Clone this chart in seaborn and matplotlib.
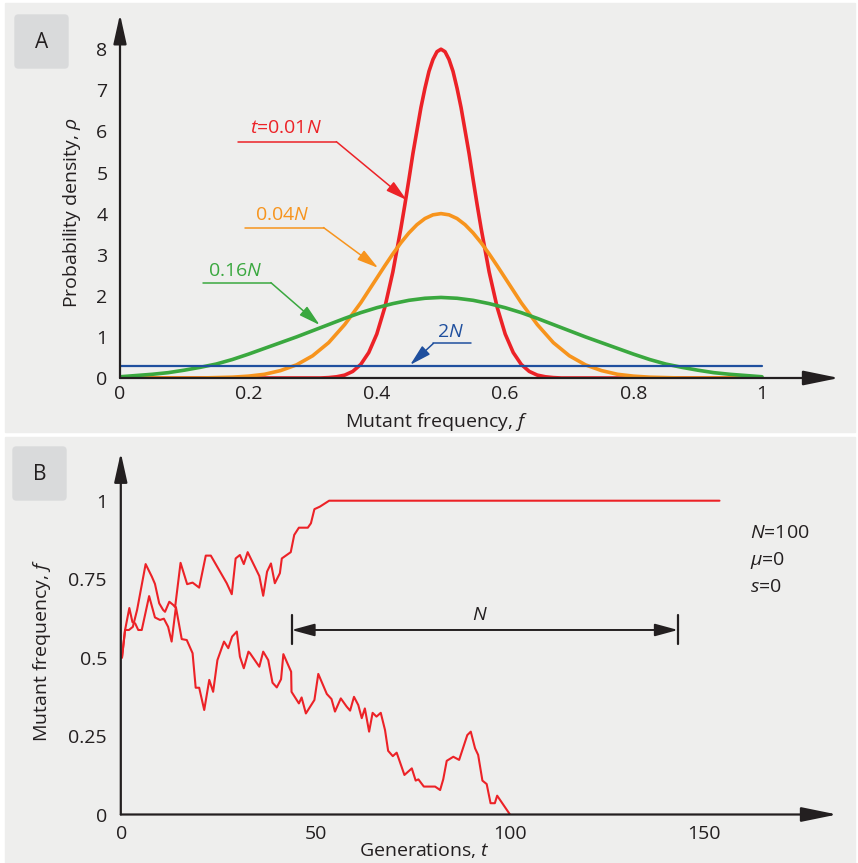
import numpy as np
import matplotlib
matplotlib.use("Agg")
import matplotlib.pyplot as plt
from matplotlib.patches import Rectangle, FancyBboxPatch
import seaborn as sns

# ---------------- data ----------------
# Panel A: probability density of mutant frequency at several times
f_red = [0.0, 0.3, 0.3125, 0.325, 0.3375, 0.35, 0.3625, 0.375, 0.3875, 0.4,
         0.4125, 0.425, 0.4375, 0.44375, 0.45, 0.45625, 0.4625, 0.46875, 0.475,
         0.48125, 0.4875, 0.49375, 0.5, 0.50625, 0.5125, 0.51875, 0.525,
         0.53125, 0.5375, 0.54375, 0.55, 0.55625, 0.5625, 0.575, 0.5875, 0.6,
         0.6125, 0.625, 0.6375, 0.65, 0.6625, 0.675, 0.6875, 0.7, 1.0]
rho_red = [0, 0, 0, 0.01, 0.03, 0.07, 0.16, 0.33, 0.62, 1.07,
           1.72, 2.58, 3.64, 4.22, 4.83, 5.46, 6.02, 6.58, 7.05,
           7.46, 7.75, 7.94, 8.0, 7.94, 7.75, 7.46, 7.05,
           6.58, 6.02, 5.46, 4.83, 4.22, 3.64, 2.58, 1.72, 1.07,
           0.62, 0.33, 0.16, 0.07, 0.03, 0.01, 0, 0, 0]

f_orange = [0.0, 0.125, 0.15, 0.175, 0.2, 0.225, 0.25, 0.275, 0.3, 0.325,
            0.35, 0.375, 0.4, 0.4125, 0.425, 0.4375, 0.45, 0.4625, 0.475,
            0.4875, 0.5, 0.5125, 0.525, 0.5375, 0.55, 0.5625, 0.575, 0.5875,
            0.6, 0.625, 0.65, 0.675, 0.7, 0.725, 0.75, 0.775, 0.8, 0.825,
            0.85, 0.875, 1.0]
rho_orange = [0, 0, 0.01, 0.02, 0.045, 0.09, 0.18, 0.32, 0.54, 0.86,
              1.30, 1.83, 2.43, 2.73, 3.02, 3.29, 3.53, 3.73, 3.88,
              3.97, 4.0, 3.97, 3.88, 3.73, 3.53, 3.29, 3.02, 2.73,
              2.43, 1.83, 1.30, 0.86, 0.54, 0.32, 0.18, 0.09, 0.045, 0.02,
              0.01, 0, 0]

f_green = np.linspace(0, 1, 41)
rho_green = [0.03, 0.06, 0.09, 0.13, 0.19, 0.26, 0.34, 0.45, 0.58, 0.72, 0.86,
             1.00, 1.15, 1.30, 1.45, 1.59, 1.71, 1.81, 1.89, 1.94, 1.96,
             1.94, 1.89, 1.81, 1.71, 1.59, 1.45, 1.30, 1.15, 1.00, 0.86,
             0.72, 0.58, 0.45, 0.34, 0.26, 0.19, 0.13, 0.09, 0.06, 0.03]

f_blue = [0.0, 1.0]
rho_blue = [0.28, 0.28]

curve_labels = [r"$t$=0.01$N$", r"0.04$N$", r"0.16$N$", r"2$N$"]
xticks_a = [0, 0.1, 0.2, 0.3, 0.4, 0.5, 0.6, 0.7, 0.8, 0.9, 1.0]
xticklabels_a = ["0", "", "0.2", "", "0.4", "", "0.6", "", "0.8", "", "1"]
yticks_a = [0, 1, 2, 3, 4, 5, 6, 7, 8]

# Panel B: two drift trajectories (N=100)
t_fix = [0, 0.8, 1.8, 2.8, 3.9, 6.1, 7.7, 8.5, 9.6, 10.6, 11.1, 12.2, 13.2,
         13.7, 15.1, 16.8, 18.2, 19.9, 21.6, 22.9, 27.0, 28.3, 29.3, 30.4,
         31.4, 32.4, 35.4, 36.4, 37.4, 38.4, 39.4, 40.7, 41.2, 43.5, 44.4,
         45.6, 47.9, 48.7, 49.6, 51.0, 53.4, 154]
f_fix = [0.5, 0.588, 0.588, 0.598, 0.652, 0.798, 0.758, 0.735, 0.673, 0.652,
         0.646, 0.678, 0.668, 0.661, 0.802, 0.734, 0.739, 0.723, 0.825, 0.825,
         0.737, 0.702, 0.816, 0.827, 0.798, 0.836, 0.760, 0.697, 0.774, 0.800,
         0.737, 0.769, 0.816, 0.836, 0.891, 0.914, 0.914, 0.928, 0.973, 0.981,
         1.0, 1.0]

t_loss = [0, 0.8, 1.9, 2.7, 3.4, 4.2, 5.1, 7.0, 8.5, 9.8, 10.8, 11.9, 12.8,
          13.9, 15.4, 16.7, 18.2, 19.0, 19.9, 21.2, 22.5, 23.5, 24.6, 26.3,
          27.4, 28.4, 29.6, 30.4, 31.4, 32.6, 33.0, 35.4, 36.4, 37.7, 38.8,
          39.9, 41.0, 41.6, 43.6, 43.7, 45.6, 46.3, 47.4, 49.6, 50.6, 52.8,
          54.0, 54.9, 56.4, 57.9, 58.8, 59.8, 60.9, 61.8, 62.6, 63.7, 64.6,
          65.6, 66.7, 67.8, 68.6, 69.8, 70.8, 72.8, 74.7, 75.7, 76.4, 77.8,
          80.7, 82.0, 82.8, 83.7, 85.4, 86.9, 89.0, 89.9, 91.0, 91.8, 92.9,
          94.0, 95.0, 96.1, 96.7, 100.0]
f_loss = [0.5, 0.588, 0.658, 0.613, 0.609, 0.588, 0.588, 0.696, 0.628, 0.620,
          0.624, 0.598, 0.551, 0.661, 0.559, 0.556, 0.514, 0.404, 0.404, 0.333,
          0.429, 0.391, 0.492, 0.551, 0.530, 0.567, 0.583, 0.503, 0.466, 0.519,
          0.514, 0.471, 0.519, 0.492, 0.420, 0.405, 0.431, 0.511, 0.455, 0.391,
          0.354, 0.373, 0.322, 0.365, 0.448, 0.384, 0.368, 0.328, 0.370, 0.344,
          0.331, 0.375, 0.349, 0.307, 0.338, 0.264, 0.324, 0.312, 0.324, 0.269,
          0.203, 0.186, 0.197, 0.126, 0.147, 0.108, 0.112, 0.089, 0.089, 0.078,
          0.112, 0.171, 0.184, 0.174, 0.253, 0.264, 0.211, 0.190, 0.108, 0.097,
          0.036, 0.036, 0.060, 0.0]

xticks_b = [0, 50, 100, 150]
yticks_b = [0, 0.25, 0.5, 0.75, 1]
yticklabels_b = ["0", "0.25", "0.5", "0.75", "1"]
params_b = [r"$N$=100", r"$\mu$=0", r"$s$=0"]

# ---------------- style ----------------
sns.set_theme(style="white")
plt.rcParams["font.family"] = ["Open Sans", "DejaVu Sans"]
plt.rcParams["mathtext.fontset"] = "custom"
plt.rcParams["mathtext.rm"] = "Open Sans"
plt.rcParams["mathtext.it"] = "Open Sans:italic"
plt.rcParams["mathtext.sf"] = "Open Sans"

INK = "#231f20"
RED = "#ec2227"
ORANGE = "#f7941d"
GREEN = "#3aa83f"
BLUE = "#1f4f9e"
BG = "#eeeeed"
BOX = "#d9dadb"
FS = 14

W, H = 858, 863
fig = plt.figure(figsize=(W / 100, H / 100), dpi=100)


def fx(px):
    return px / W


def fy(py):
    return 1 - py / H


# panel backgrounds and letter boxes
for top, bottom in [(3, 432), (437, 863)]:
    fig.patches.append(Rectangle((fx(5), fy(bottom)), fx(850), (bottom - top) / H,
                                 transform=fig.transFigure, color=BG, zorder=-10))
for (x0, y0, letter) in [(15, 15, "A"), (13, 447, "B")]:
    fig.patches.append(FancyBboxPatch((fx(x0), fy(y0 + 53)), fx(53), 53 / H,
                                      boxstyle="round,pad=0,rounding_size=0.004",
                                      transform=fig.transFigure, color=BOX, zorder=-9))
    fig.text(fx(x0 + 26.5), fy(y0 + 27), letter, ha="center", va="center",
             fontsize=FS + 1, color=INK)


def axis_arrow(ax, start, end, hl, hw):
    ax.annotate("", xy=end, xytext=start, annotation_clip=False,
                arrowprops=dict(arrowstyle=f"-|>,head_length={hl},head_width={hw}",
                                mutation_scale=10, lw=1.6, color=INK,
                                shrinkA=0, shrinkB=0))


# ---------------- panel A ----------------
axA = fig.add_axes([fx(120), fy(378), 1.12 * 642 / W, 8.85 * 41.1 / H])
axA.set_facecolor("none")
for s in axA.spines.values():
    s.set_visible(False)

line_kw = dict(sort=False, estimator=None, solid_joinstyle="round", solid_capstyle="round")
sns.lineplot(x=f_red, y=rho_red, ax=axA, color=RED, lw=2.6, **line_kw)
sns.lineplot(x=f_orange, y=rho_orange, ax=axA, color=ORANGE, lw=2.6, **line_kw)
sns.lineplot(x=f_green, y=rho_green, ax=axA, color=GREEN, lw=2.6, **line_kw)
sns.lineplot(x=f_blue, y=rho_blue, ax=axA, color=BLUE, lw=1.6, sort=False, estimator=None)

axA.set_xlim(0, 1.12)
axA.set_ylim(0, 8.85)
axis_arrow(axA, (0, 0), (1.12, 0), 2.2, 0.45)
axis_arrow(axA, (0, 0), (0, 8.85), 1.8, 0.4)

axA.set_xticks(xticks_a, xticklabels_a)
axA.set_yticks(yticks_a, [str(v) for v in yticks_a])
axA.tick_params(axis="x", direction="in", length=5, width=1.3, color=INK,
                pad=5, labelsize=FS, labelcolor=INK)
axA.tick_params(axis="y", direction="in", length=5, width=1.3, color=INK,
                pad=9, labelsize=FS, labelcolor=INK)
axA.set_xlabel("")
axA.set_ylabel("")

# curve labels with leader arrows: (text pos, underline x-range, underline y, arrow tip)
leaders = [((0.258, 6.08), (0.184, 0.337), 5.75, (0.4466, 4.33), RED),
           ((0.252, 3.97), (0.195, 0.317), 3.66, (0.402, 2.68), ORANGE),
           ((0.179, 2.60), (0.130, 0.235), 2.32, (0.311, 1.29), GREEN),
           ((0.515, 1.12), (0.488, 0.546), 0.84, (0.452, 0.32), BLUE)]
for label, (tpos, (u0, u1), uy, tip, col) in zip(curve_labels, leaders):
    axA.text(tpos[0], tpos[1], label, color=col, fontsize=FS, ha="center", va="center")
    axA.plot([u0, u1], [uy, uy], color=col, lw=1.1)
    start = (u1, uy) if col != BLUE else (u0, uy)
    axA.annotate("", xy=tip, xytext=start,
                 arrowprops=dict(arrowstyle="-|>,head_length=1.3,head_width=0.35",
                                 mutation_scale=10, lw=1.1, color=col,
                                 shrinkA=0, shrinkB=0))

fig.text(fx(437), fy(422), r"Mutant frequency, $f$", ha="center", va="center",
         fontsize=FS, color=INK)
fig.text(fx(72), fy(213), r"Probability density, $\rho$", ha="center", va="center",
         rotation=90, fontsize=FS, color=INK)

# ---------------- panel B ----------------
axB = fig.add_axes([fx(120.8), fy(814.5), 184.6 * 3.88 / W, 1.153 * 313.8 / H])
axB.set_facecolor("none")
for s in axB.spines.values():
    s.set_visible(False)

sns.lineplot(x=t_fix, y=f_fix, ax=axB, color=RED, lw=1.5, sort=False, estimator=None)
sns.lineplot(x=t_loss, y=f_loss, ax=axB, color=RED, lw=1.5, sort=False, estimator=None)

axB.set_xlim(-0.3, 184.3)
axB.set_ylim(0, 1.153)
axis_arrow(axB, (-0.3, 0), (184.3, 0), 2.2, 0.45)
axis_arrow(axB, (-0.3, 0), (-0.3, 1.153), 1.8, 0.4)

axB.set_xticks(xticks_b, [str(v) for v in xticks_b])
axB.set_yticks(yticks_b, yticklabels_b)
axB.tick_params(axis="x", direction="inout", length=9, width=1.5, color=INK,
                pad=3, labelsize=FS, labelcolor=INK)
axB.tick_params(axis="y", direction="inout", length=14, width=1.5, color=INK,
                pad=3, labelsize=FS, labelcolor=INK)
axB.set_xlabel("")
axB.set_ylabel("")

# N-generation span marker
for t in (43.7, 143.3):
    axB.plot([t, t], [0.542, 0.635], color=INK, lw=1.6)
axB.annotate("", xy=(43.7, 0.588), xytext=(143.3, 0.588),
             arrowprops=dict(arrowstyle="<|-|>,head_length=1.4,head_width=0.38",
                             mutation_scale=10, lw=1.4, color=INK,
                             shrinkA=0, shrinkB=0))
axB.text(92.3, 0.636, r"$N$", ha="center", va="center", fontsize=FS, color=INK)

for i, txt in enumerate(params_b):
    fig.text(fx(750), fy(533 + 27 * i), txt, ha="left", va="center",
             fontsize=FS, color=INK)

fig.text(fx(424), fy(850), r"Generations, $t$", ha="center", va="center",
         fontsize=FS, color=INK)
fig.text(fx(42), fy(650), r"Mutant frequency, $f$", ha="center", va="center",
         rotation=90, fontsize=FS, color=INK)

fig.savefig("out.png", dpi=100)
plt.close(fig)
